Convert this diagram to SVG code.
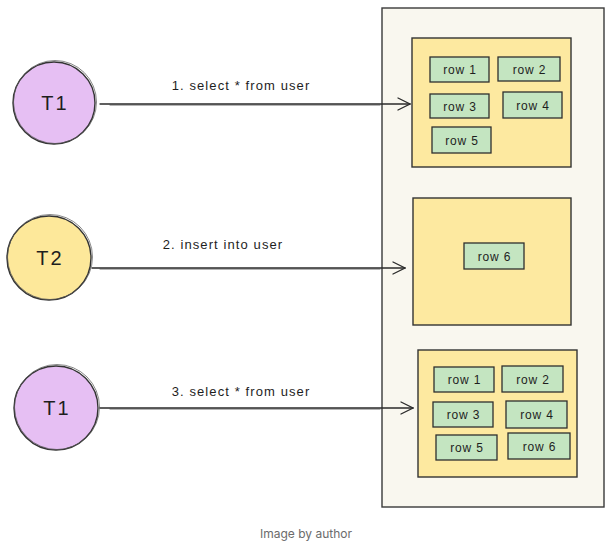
<svg xmlns="http://www.w3.org/2000/svg" width="612" height="542" viewBox="0 0 612 542">
<defs>
<style>
.ln{fill:none;stroke:#2b2b2b;stroke-width:1.3;stroke-linecap:round}
.ln2{fill:none;stroke:#444;stroke-width:0.8;stroke-linecap:round}
.cont{fill:#f9f7ef;stroke:#3a3a3a;stroke-width:1.4}
.box{fill:#fde9a0;stroke:#333;stroke-width:1.4}
.row{fill:#c4e5c1;stroke:#2f2f2f;stroke-width:1.3}
.t{font-family:"Liberation Sans",sans-serif;fill:#1e1e1e}
.rt{font-size:12px;letter-spacing:0.8px;text-anchor:middle}
.lb{font-size:13px;letter-spacing:1.1px;text-anchor:middle}
.nt{font-size:20px;letter-spacing:2px;text-anchor:middle}
</style>
<marker id="ah" viewBox="0 0 14 14" refX="13" refY="7" markerWidth="14" markerHeight="14" markerUnits="userSpaceOnUse" orient="auto">
<path d="M1 1 L13 7 L1 13" fill="none" stroke="#2b2b2b" stroke-width="1.3" stroke-linecap="round"/>
</marker>
</defs>
<rect width="612" height="542" fill="#ffffff"/>

<g id="container">
<rect class="cont" x="382" y="8" width="222" height="499"/>
</g>

<g id="box1">
<rect class="box" x="412" y="38" width="159" height="129"/>
<g id="b1r1"><rect class="row" x="430" y="57" width="59" height="25"/><text class="t rt" x="460" y="74">row 1</text></g>
<g id="b1r2"><rect class="row" x="498" y="57" width="62" height="24"/><text class="t rt" x="529.5" y="73.5">row 2</text></g>
<g id="b1r3"><rect class="row" x="430" y="94" width="59" height="24"/><text class="t rt" x="460" y="110.5">row 3</text></g>
<g id="b1r4"><rect class="row" x="503" y="92" width="59" height="26"/><text class="t rt" x="533" y="109.5">row 4</text></g>
<g id="b1r5"><rect class="row" x="432" y="127" width="59" height="26"/><text class="t rt" x="462" y="144.5">row 5</text></g>
</g>

<g id="box2">
<rect class="box" x="413" y="198" width="158" height="127"/>
<g id="b2r6"><rect class="row" x="464" y="243" width="60" height="26"/><text class="t rt" x="494.5" y="260.5">row 6</text></g>
</g>

<g id="box3">
<rect class="box" x="418" y="350" width="159" height="127"/>
<g id="b3r1"><rect class="row" x="434" y="367" width="60" height="25"/><text class="t rt" x="464.5" y="384">row 1</text></g>
<g id="b3r2"><rect class="row" x="502" y="366" width="61" height="26"/><text class="t rt" x="533" y="383.5">row 2</text></g>
<g id="b3r3"><rect class="row" x="433" y="402" width="60" height="25"/><text class="t rt" x="463.5" y="419">row 3</text></g>
<g id="b3r4"><rect class="row" x="506" y="401" width="61" height="27"/><text class="t rt" x="537" y="419">row 4</text></g>
<g id="b3r5"><rect class="row" x="436" y="435" width="61" height="25"/><text class="t rt" x="467" y="452">row 5</text></g>
<g id="b3r6"><rect class="row" x="508" y="433" width="62" height="26"/><text class="t rt" x="539.5" y="450.5">row 6</text></g>
</g>

<g id="t1a">
<circle cx="54" cy="103" r="41" fill="#e6bff3" stroke="#333" stroke-width="1.4"/>
<circle cx="55" cy="102" r="41.5" fill="none" stroke="#555" stroke-width="0.7"/>
<text class="t nt" x="55" y="110">T1</text>
</g>
<g id="t2">
<circle cx="49" cy="258" r="42" fill="#fde89a" stroke="#333" stroke-width="1.4"/>
<circle cx="50" cy="257" r="42.5" fill="none" stroke="#555" stroke-width="0.7"/>
<text class="t nt" x="50" y="265">T2</text>
</g>
<g id="t1b">
<circle cx="56" cy="408" r="42" fill="#e6bff3" stroke="#333" stroke-width="1.4"/>
<circle cx="57" cy="407" r="42.5" fill="none" stroke="#555" stroke-width="0.7"/>
<text class="t nt" x="57" y="415">T1</text>
</g>

<g id="connectors">
<line class="ln" x1="100" y1="104" x2="410" y2="104" marker-end="url(#ah)"/>
<line class="ln2" x1="110" y1="105" x2="380" y2="105"/>
<line class="ln" x1="92" y1="268" x2="405" y2="268" marker-end="url(#ah)"/>
<line class="ln2" x1="100" y1="269" x2="380" y2="269"/>
<line class="ln" x1="100" y1="408" x2="413" y2="408" marker-end="url(#ah)"/>
<line class="ln2" x1="110" y1="409" x2="380" y2="409"/>
<text class="t lb" x="241" y="90">1. select * from user</text>
<text class="t lb" x="223" y="249">2. insert into user</text>
<text class="t lb" x="241" y="396">3. select * from user</text>
</g>

<text x="306" y="538" font-family="Inter, 'Liberation Sans', sans-serif" font-size="12" fill="#6b6b6b" text-anchor="middle">Image by author</text>
</svg>
